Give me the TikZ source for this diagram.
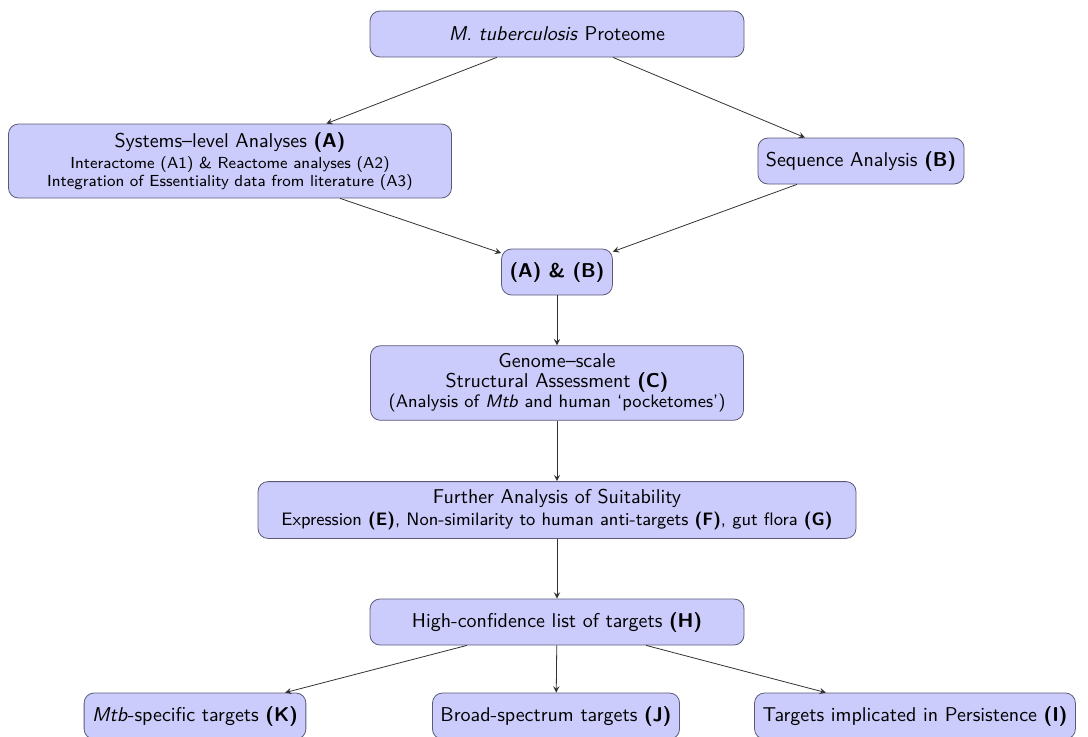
\documentclass[tikz,border=0pt]{standalone}
\usepackage{amsmath}
\usepackage{tikz}
\usetikzlibrary{positioning, calc, arrows.meta}
\definecolor{boxfill}{RGB}{204, 204, 252}
\definecolor{boxline}{RGB}{90, 90, 120}
\definecolor{flowline}{RGB}{50, 50, 50}
\tikzset{
    stagebox/.style={
        draw=boxline, fill=boxfill, rounded corners=5pt, align=center,
        inner xsep=4pt, inner ysep=4pt, minimum height=23pt, font=\sffamily
    },
    flow/.style={
        ->, >=stealth, flowline, thin
    }
}

\begin{document}
\begin{tikzpicture}[x=0.5pt, y=-0.5pt]
        \useasboundingbox (0,0) rectangle (1088,736);

        % --- 1. CAC HOP ---
        \node[stagebox, minimum width=187pt] (prot) at (557,34) {\textit{M. tuberculosis} Proteome};
        \node[stagebox, minimum width=221.5pt] (sysA) at (230,161)
            {Systems--level Analyses \textbf{(A)}\\[-1.5pt]
             \footnotesize Interactome (A1) \& Reactome analyses (A2)\\[-3pt]
             \footnotesize Integration of Essentiality data from literature (A3)};
        \node[stagebox] (seqB) at (861,161) {Sequence Analysis \textbf{(B)}};
        \node[stagebox] (ab) at (557,272) {\textbf{(A) \& (B)}};
        \node[stagebox, minimum width=186.5pt] (strC) at (557,383)
            {Genome--scale\\[-2pt] Structural Assessment \textbf{(C)}\\[-2pt]
             \small (Analysis of \textit{Mtb} and human `pocketomes')};
        \node[stagebox, minimum width=299pt] (suit) at (557,510)
            {Further Analysis of Suitability\\[-1pt]
             \small Expression \textbf{(E)}, Non-similarity to human anti-targets \textbf{(F)}, gut flora \textbf{(G)}};
        \node[stagebox, minimum width=187pt] (hcH) at (557,622) {High-confidence list of targets \textbf{(H)}};

        % --- 2. HANG DUOI ---
        \node[stagebox] (mtbK) at (195,716) {\textit{Mtb}-specific targets \textbf{(K)}};
        \node[stagebox] (broadJ) at (556,716) {Broad-spectrum targets \textbf{(J)}};
        \node[stagebox] (persI) at (915,716) {Targets implicated in Persistence \textbf{(I)}};

        % --- 3. MUI TEN ---
        \draw[flow] (prot) -- (sysA);
        \draw[flow] (prot) -- (seqB);
        \draw[flow] (sysA) -- (ab);
        \draw[flow] (seqB) -- (ab);
        \draw[flow] (ab) -- (strC);
        \draw[flow] (strC) -- (suit);
        \draw[flow] (suit) -- (hcH);
        \draw[flow] (hcH) -- (mtbK);
        \draw[flow] (hcH) -- (broadJ);
        \draw[flow] (hcH) -- (persI);

    \end{tikzpicture}
\end{document}
